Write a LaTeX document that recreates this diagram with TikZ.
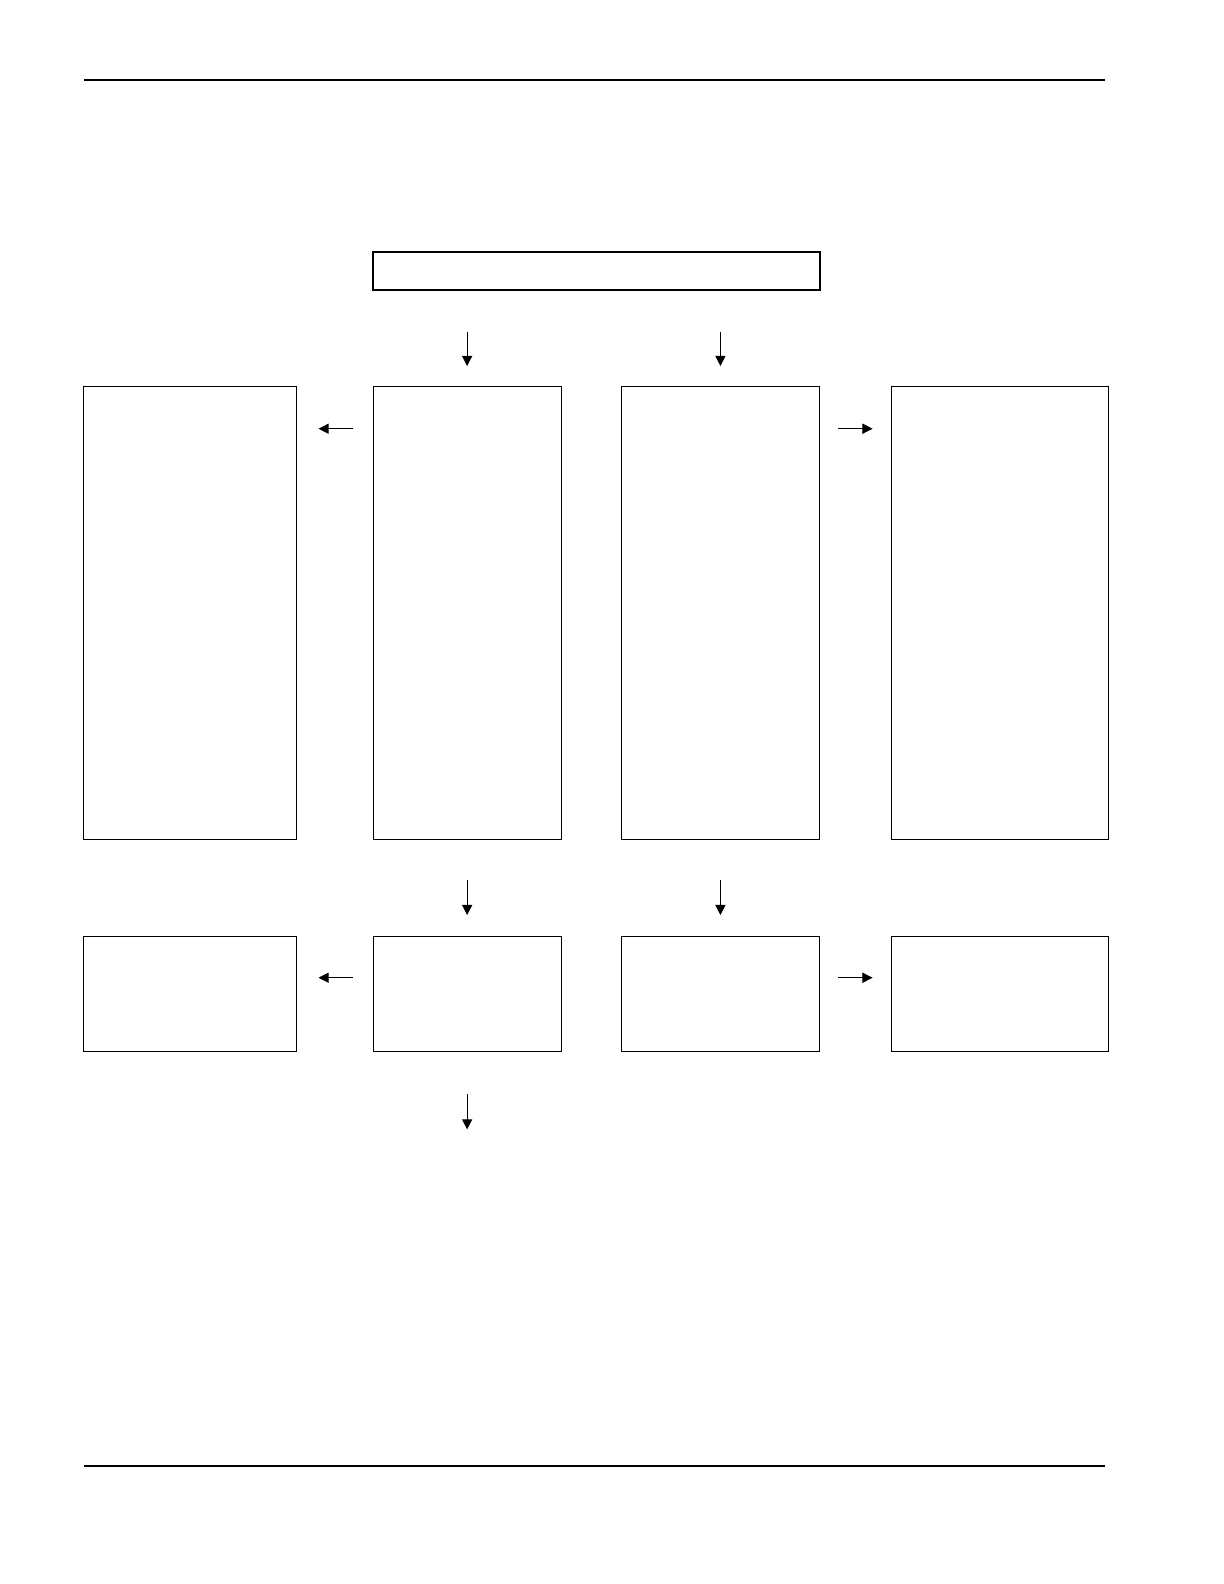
\documentclass[tikz,border=0pt]{standalone}
\usetikzlibrary{arrows.meta}
\begin{document}
\begin{tikzpicture}[x=1pt,y=-1pt,
  box/.style={draw,line width=1pt,inner sep=0pt,outer sep=0pt,rectangle},
  arr/.style={line width=1pt,-{Triangle[length=10pt,width=10pt]}},
  rule/.style={line width=2pt}]
\useasboundingbox (0,0) rectangle (1210.5,1566.6);
\coordinate (r1a) at (83,79); \coordinate (r1b) at (1093,79);
\coordinate (r2a) at (83,1450); \coordinate (r2b) at (1093,1450);
\draw[rule] (r1a) -- (r1b);
\draw[rule] (r2a) -- (r2b);
% top box
\node[box,line width=2pt,minimum width=442pt,minimum height=38pt] (top) at (590,268) {};
% big boxes
\node[box,minimum width=210pt,minimum height=448pt] (A) at (188,606) {};
\node[box,minimum width=186pt,minimum height=448pt] (B) at (462,606) {};
\node[box,minimum width=195pt,minimum height=448pt] (C) at (712.5,606) {};
\node[box,minimum width=214pt,minimum height=448pt] (D) at (989,606) {};
% small boxes
\node[box,minimum width=210pt,minimum height=114pt] (a) at (188,983) {};
\node[box,minimum width=186pt,minimum height=114pt] (b) at (462,983) {};
\node[box,minimum width=195pt,minimum height=114pt] (c) at (712.5,983) {};
\node[box,minimum width=214pt,minimum height=114pt] (d) at (989,983) {};
% arrows top -> B, C
\draw[arr,shorten <=41pt,shorten >=20pt] (top.south -| B.north) -- (B.north);
\draw[arr,shorten <=41pt,shorten >=20pt] (top.south -| C.north) -- (C.north);
% side arrows big
\draw[arr,shorten <=20pt,shorten >=22pt] ([yshift=-42pt]B.north west) -- ([yshift=-42pt]B.north west -| A.east);
\draw[arr,shorten <=19pt,shorten >=19pt] ([yshift=-42pt]C.north east) -- ([yshift=-42pt]C.north east -| D.west);
% down arrows big -> small
\draw[arr,shorten <=40pt,shorten >=21pt] (B.south) -- (b.north);
\draw[arr,shorten <=40pt,shorten >=21pt] (C.south) -- (c.north);
% side arrows small
\draw[arr,shorten <=20pt,shorten >=22pt] ([yshift=-41pt]b.north west) -- ([yshift=-41pt]b.north west -| a.east);
\draw[arr,shorten <=19pt,shorten >=19pt] ([yshift=-41pt]c.north east) -- ([yshift=-41pt]c.north east -| d.west);
% final down arrow
\coordinate (end) at (462,1117);
\draw[arr,shorten <=42pt] (b.south) -- (end);
\end{tikzpicture}
\end{document}
